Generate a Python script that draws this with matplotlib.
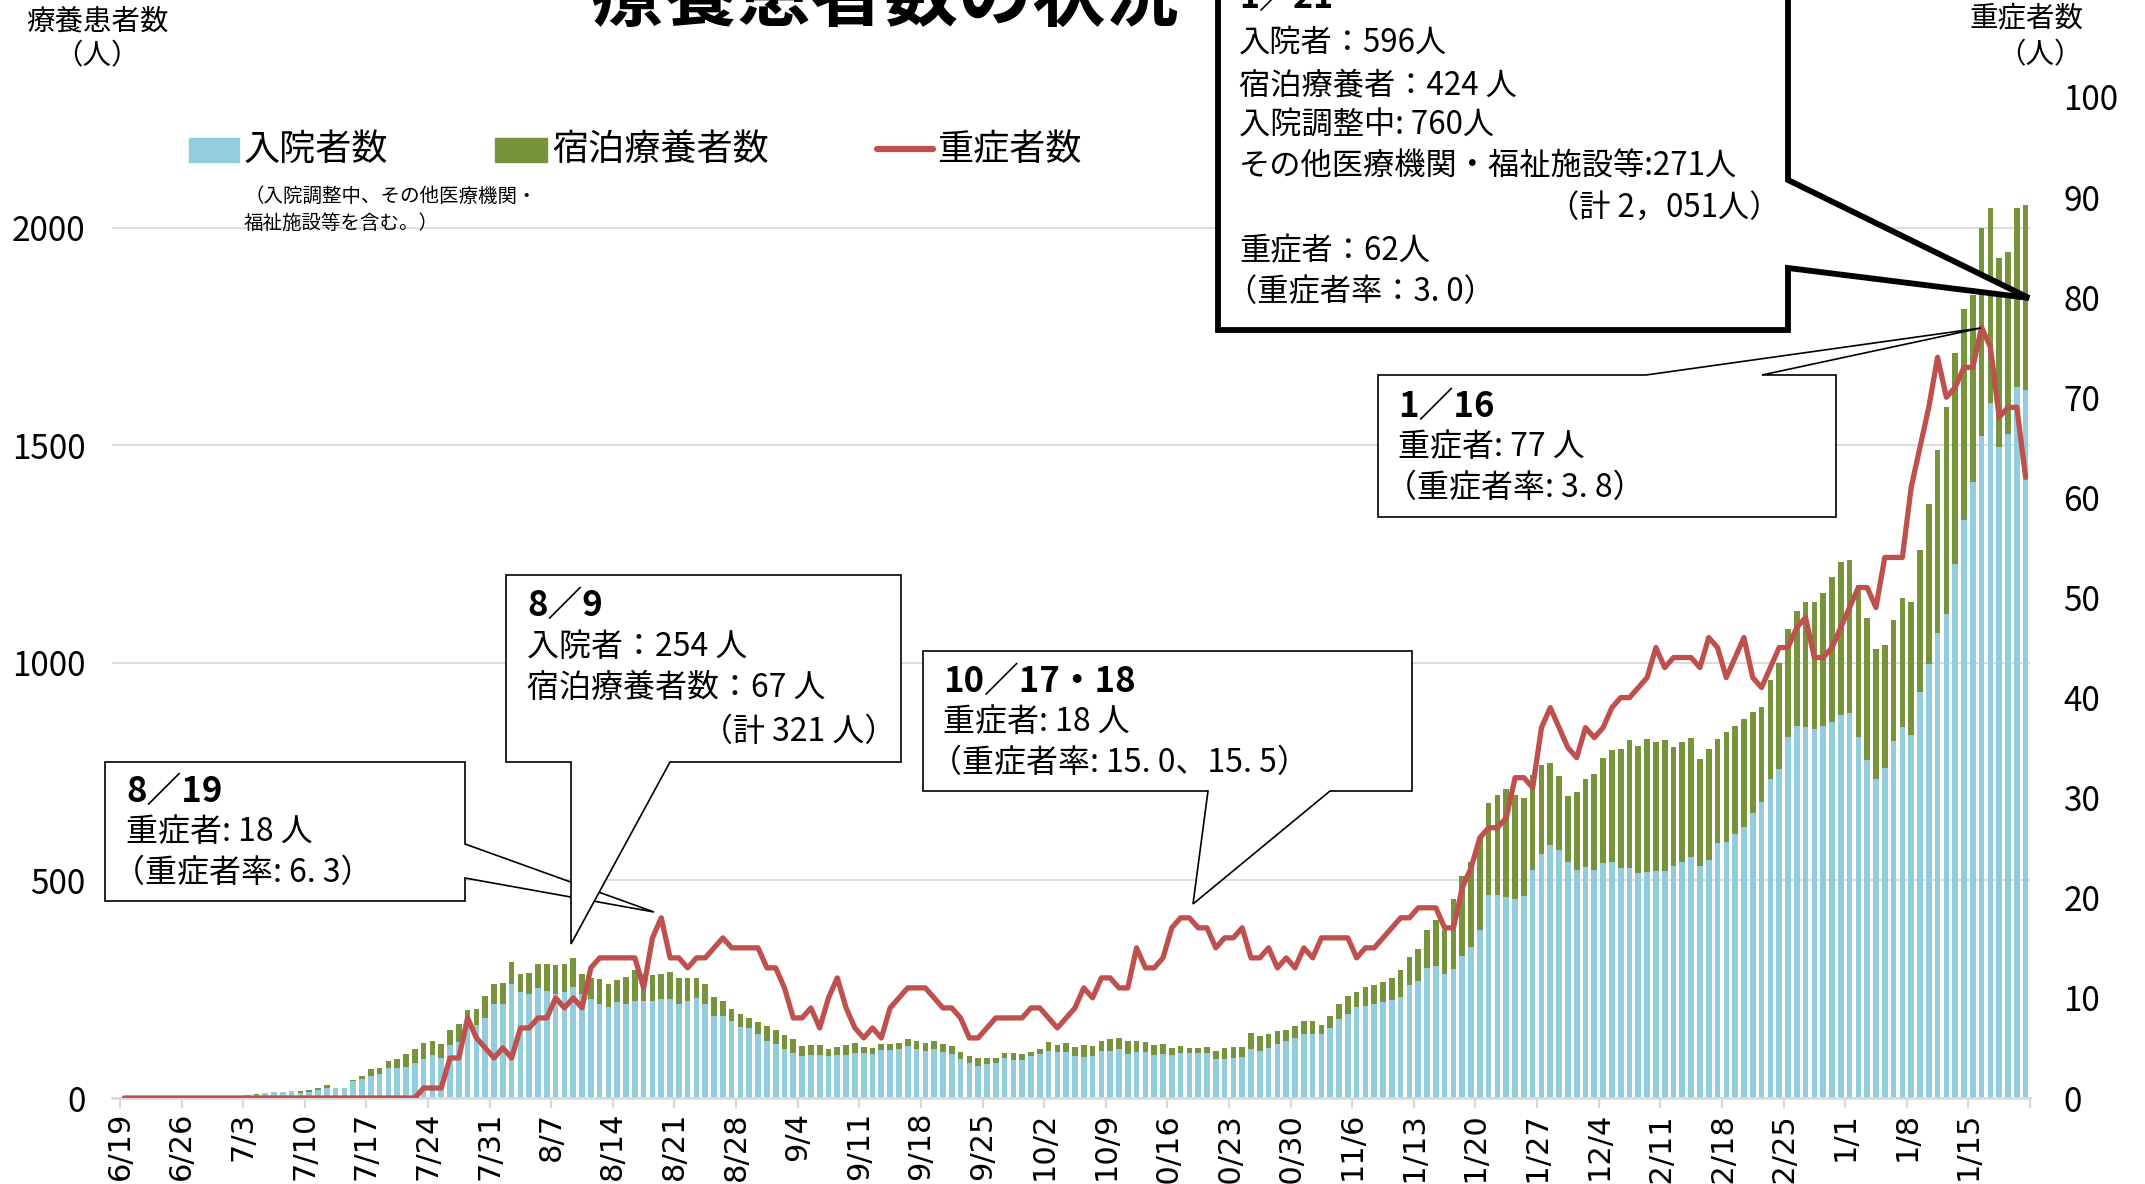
import numpy as np
import matplotlib
matplotlib.use('Agg')
import matplotlib.pyplot as plt
from matplotlib.patches import Polygon, Rectangle
from matplotlib.lines import Line2D

plt.rcParams['font.family'] = ['Noto Sans CJK JP', 'DejaVu Sans']

# ---------------- data (daily, 2020/6/19 - 2021/1/21) ----------------
hospital = [
    3, 3, 3, 3, 4, 4, 4, 4, 4, 4,
    4, 3, 3, 3, 6, 7, 11, 13, 13, 15,
    11, 14, 18, 24, 24, 24, 38, 44, 51, 54,
    69, 70, 71, 80, 90, 99, 93, 122, 129, 165,
    168, 183, 217, 217, 262, 243, 239, 252, 246, 240,
    243, 254, 240, 227, 217, 210, 220, 217, 224, 224,
    223, 227, 227, 217, 224, 229, 217, 188, 188, 178,
    164, 160, 148, 132, 124, 113, 103, 96, 98, 98,
    96, 98, 98, 104, 103, 101, 110, 110, 112, 120,
    112, 108, 112, 106, 101, 89, 80, 73, 77, 80,
    91, 87, 88, 96, 101, 109, 106, 106, 96, 95,
    97, 107, 107, 112, 101, 105, 106, 99, 101, 99,
    103, 104, 103, 103, 90, 90, 93, 94, 113, 108,
    114, 124, 130, 138, 148, 148, 147, 161, 181, 193,
    210, 212, 216, 221, 225, 233, 259, 269, 298, 304,
    285, 296, 327, 346, 387, 466, 466, 462, 457, 464,
    524, 560, 582, 570, 543, 524, 530, 524, 540, 543,
    529, 528, 517, 520, 522, 522, 532, 543, 554, 533,
    546, 587, 589, 607, 622, 654, 680, 734, 757, 830,
    855, 852, 847, 855, 863, 880, 884, 830, 776, 734,
    759, 821, 852, 835, 933, 998, 1069, 1113, 1228, 1327,
    1415, 1520, 1597, 1496, 1526, 1633, 1627,
]
hotel = [
    0, 0, 0, 0, 0, 0, 0, 0, 0, 0,
    0, 0, 0, 0, 1, 2, 0, 0, 0, 0,
    4, 4, 4, 6, 0, 0, 3, 6, 15, 16,
    16, 20, 30, 32, 37, 33, 30, 35, 40, 37,
    36, 51, 45, 48, 50, 42, 49, 55, 61, 65,
    66, 67, 46, 48, 56, 53, 51, 61, 70, 62,
    59, 58, 62, 59, 52, 47, 44, 43, 34, 26,
    28, 24, 27, 34, 32, 32, 32, 24, 23, 23,
    17, 19, 24, 22, 14, 14, 14, 14, 14, 16,
    19, 18, 19, 17, 19, 16, 16, 18, 16, 13,
    13, 16, 13, 10, 12, 19, 16, 20, 21, 26,
    23, 25, 29, 27, 31, 27, 23, 22, 22, 16,
    16, 11, 12, 15, 19, 24, 24, 24, 37, 35,
    34, 31, 27, 27, 29, 30, 21, 28, 36, 41,
    33, 42, 43, 46, 50, 61, 65, 74, 89, 104,
    101, 162, 184, 196, 213, 211, 231, 248, 239, 226,
    218, 206, 188, 171, 151, 178, 202, 221, 241, 256,
    274, 295, 291, 306, 295, 300, 275, 275, 274, 245,
    255, 237, 252, 247, 248, 232, 219, 226, 243, 248,
    263, 287, 292, 306, 334, 352, 352, 348, 328, 298,
    281, 277, 297, 305, 325, 366, 419, 474, 484, 486,
    429, 480, 448, 434, 419, 412, 424,
]
severe = [
    0, 0, 0, 0, 0, 0, 0, 0, 0, 0,
    0, 0, 0, 0, 0, 0, 0, 0, 0, 0,
    0, 0, 0, 0, 0, 0, 0, 0, 0, 0,
    0, 0, 0, 0,
    1, 1, 1, 4, 4, 8, 6, 5, 4, 5,
    4, 7, 7, 8, 8, 10, 9, 10, 9, 13,
    14, 14, 14, 14, 14, 11, 16, 18, 14, 14,
    13, 14, 14, 15, 16, 15, 15, 15, 15, 13,
    13, 11, 8, 8, 9, 7, 10, 12, 9, 7,
    6, 7, 6, 9, 10, 11, 11, 11, 10, 9,
    9, 8, 6, 6, 7, 8, 8, 8, 8, 9,
    9, 8, 7, 8, 9, 11, 10, 12, 12, 11,
    11, 15, 13, 13, 14, 17, 18, 18, 17, 17,
    15, 16, 16, 17, 14, 14, 15, 13, 14, 13,
    15, 14, 16, 16, 16, 16, 14, 15, 15, 16,
    17, 18, 18, 19, 19, 19, 17, 17, 21, 23,
    26, 27, 27, 28, 32, 32, 31, 37, 39, 37,
    35, 34, 37, 36, 37, 39, 40, 40, 41, 42,
    45, 43, 44, 44, 44, 43, 46, 45, 42, 44,
    46, 42, 41, 43, 45, 45, 47, 48, 44, 44,
    45, 47, 49, 51, 51, 49, 54, 54, 54, 61,
    65, 69, 74, 70, 71, 73, 73, 77, 75, 68,
    69, 69, 62,
]
tick_labels = ['6/19', '6/26', '7/3', '7/10', '7/17', '7/24', '7/31', '8/7',
               '8/14', '8/21', '8/28', '9/4', '9/11', '9/18', '9/25', '10/2',
               '10/9', '10/16', '10/23', '10/30', '11/6', '11/13', '11/20',
               '11/27', '12/4', '12/11', '12/18', '12/25', '1/1', '1/8', '1/15', '']
left_ticks = [0, 500, 1000, 1500, 2000]
right_ticks = [0, 10, 20, 30, 40, 50, 60, 70, 80, 90, 100]

BLUE = '#93CDDD'
GREEN = '#77933C'
RED = '#C0504D'
GRID = '#D9D9D9'

W, H = 2145, 1184


def fx(x):
    return x / W


def fy(y):
    return 1 - y / H


fig = plt.figure(figsize=(W / 100, H / 100), dpi=100)
ax = fig.add_axes([fx(112), fy(1098), (2030 - 112) / W, (1098 - 97) / H])

n = len(hospital)
x = np.arange(n)
hosp = np.array(hospital)
hot = np.array(hotel)

ax.bar(x, hosp, width=0.64, color=BLUE, linewidth=0, zorder=2)
ax.bar(x, hot, width=0.64, bottom=hosp, color=GREEN, linewidth=0, zorder=2)

ax.set_xlim(-1.4, n - 0.5)
ax.set_ylim(0, 2300)
ax.set_yticks(left_ticks)
ax.set_yticklabels([str(v) for v in left_ticks], fontsize=24)
ax.yaxis.grid(True, color=GRID, linewidth=1.3)
ax.set_axisbelow(True)
ax.tick_params(axis='y', length=0, pad=19)

xt = np.arange(len(tick_labels)) * 7 - 0.5
ax.set_xticks(xt)
ax.set_xticklabels(tick_labels, rotation=90, fontsize=22, family='DejaVu Sans')
ax.tick_params(axis='x', length=7, width=1.6, color=GRID, pad=3)

for s in ['left', 'right', 'top']:
    ax.spines[s].set_visible(False)
ax.spines['bottom'].set_color(GRID)
ax.spines['bottom'].set_linewidth(1.8)

ax2 = ax.twinx()
ax2.plot(x, severe, color=RED, linewidth=3.8, solid_joinstyle='round',
         solid_capstyle='round', zorder=3)
ax2.set_ylim(0, 100)
ax2.set_yticks(right_ticks)
ax2.set_yticklabels([str(v) for v in right_ticks], fontsize=24)
ax2.tick_params(axis='y', length=0, pad=24)
for s in ['left', 'right', 'top', 'bottom']:
    ax2.spines[s].set_visible(False)

# ---------------- titles ----------------
fig.text(fx(885), fy(20), '療養患者数の状況', fontsize=53, fontweight='bold',
         ha='center', va='baseline')
fig.text(fx(97), fy(21), '療養患者数', fontsize=20.5, ha='center', va='center')
fig.text(fx(97), fy(56), '（人）', fontsize=20.5, ha='center', va='center')
fig.text(fx(2027), fy(18), '重症者数', fontsize=20.5, ha='center', va='center')
fig.text(fx(2040), fy(55), '（人）', fontsize=20.5, ha='center', va='center')

# ---------------- legend ----------------
fig.add_artist(Rectangle((fx(189), fy(162)), 50 / W, 24 / H,
                         transform=fig.transFigure, color=BLUE))
fig.text(fx(244), fy(150), '入院者数', fontsize=26, ha='left', va='center')
fig.add_artist(Rectangle((fx(495), fy(162)), 52 / W, 24 / H,
                         transform=fig.transFigure, color=GREEN))
fig.text(fx(552), fy(150), '宿泊療養者数', fontsize=26, ha='left', va='center')
fig.add_artist(Line2D([fx(877), fx(933)], [fy(149), fy(149)],
                      transform=fig.transFigure, color=RED, linewidth=4.5,
                      solid_capstyle='round'))
fig.text(fx(937), fy(150), '重症者数', fontsize=26, ha='left', va='center')
fig.text(fx(244), fy(196), '（入院調整中、その他医療機関・', fontsize=14,
         ha='left', va='center')
fig.text(fx(244), fy(223), '福祉施設等を含む。）', fontsize=14,
         ha='left', va='center')


# ---------------- callout boxes ----------------
def callout(pts, lw):
    poly = Polygon([(fx(a), fy(b)) for a, b in pts], closed=True,
                   transform=fig.transFigure, facecolor='white',
                   edgecolor='black', linewidth=lw, joinstyle='miter')
    fig.add_artist(poly)


def lines(x0, ys, texts, size=23, head=True):
    for i, (yy, t) in enumerate(zip(ys, texts)):
        bold = (i == 0 and head)
        xx = x0 - 13 if t.startswith('（') else x0
        fig.text(fx(xx), fy(yy), t, fontsize=size + (2 if bold else 0),
                 fontweight='bold' if bold else 'normal',
                 ha='left', va='center')


# 8/19
callout([(105, 762), (465, 762), (465, 844), (654, 912), (465, 878),
         (465, 901), (105, 901)], 1.2)
lines(126, [791, 832, 873], ['8／19', '重症者: 18 人', '（重症者率: 6. 3）'])

# 8/9
callout([(506, 575), (901, 575), (901, 762), (670, 762), (571, 944),
         (571, 762), (506, 762)], 1.2)
lines(527, [605, 647, 688], ['8／9', '入院者：254 人', '宿泊療養者数：67 人'])
fig.text(fx(896), fy(732), '（計 321 人）', fontsize=23, ha='right', va='center')

# 10/17-18
callout([(923, 651), (1412, 651), (1412, 791), (1330, 791), (1193, 904),
         (1208, 791), (923, 791)], 1.2)
lines(943, [681, 722, 763], ['10／17・18', '重症者: 18 人', '（重症者率: 15. 0、15. 5）'])

# 1/16
callout([(1378, 375), (1646, 375), (1981, 328), (1762, 375), (1836, 375),
         (1836, 517), (1378, 517)], 1.2)
lines(1398, [406, 447, 488], ['1／16', '重症者: 77 人', '（重症者率: 3. 8）'])

# 1/21
callout([(1218, -80), (1788, -80), (1788, 180), (2029, 298), (1788, 268),
         (1788, 330), (1218, 330)], 4.2)
lines(1239, [-3, 43, 85, 126, 167], ['1／21', '入院者：596人', '宿泊療養者：424 人',
                                     '入院調整中: 760人', 'その他医療機関・福祉施設等:271人'],
      size=22.5)
fig.text(fx(1780), fy(209), '（計 2，051人）', fontsize=22.5, ha='right', va='center')
lines(1239, [251, 292], ['重症者：62人', '（重症者率：3. 0）'], size=22.5, head=False)

fig.savefig('out.png', dpi=100)
